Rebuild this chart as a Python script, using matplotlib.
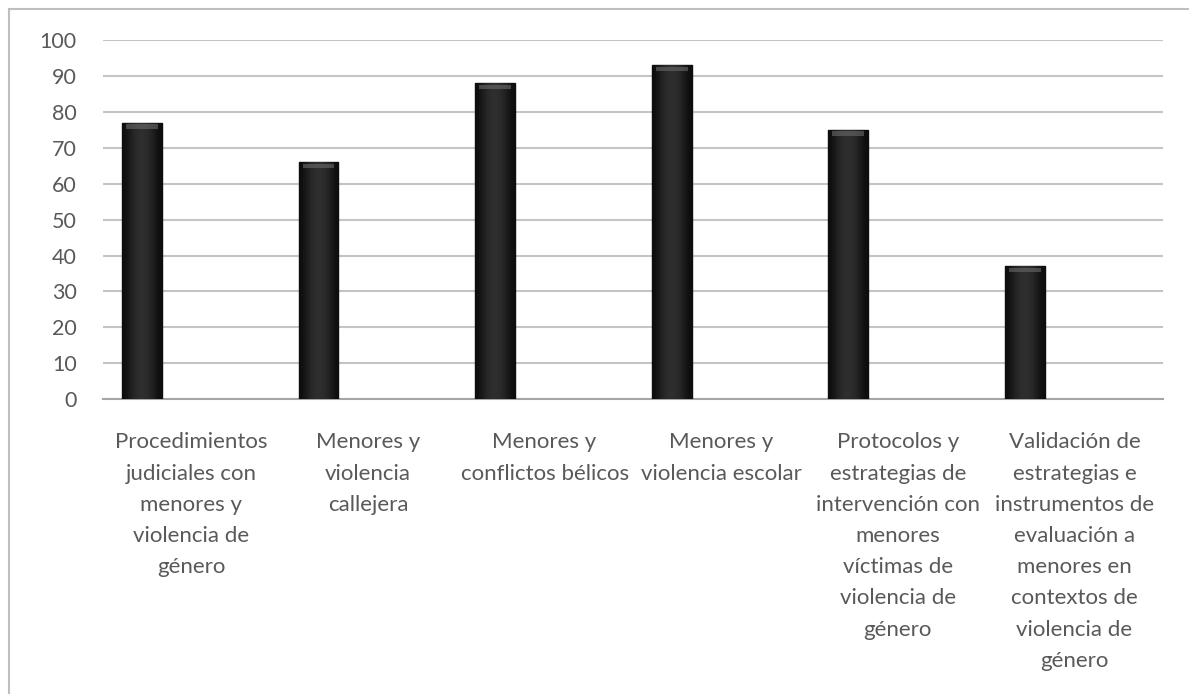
import matplotlib
matplotlib.use("Agg")
import matplotlib.pyplot as plt
import numpy as np
from matplotlib.lines import Line2D

categories = [
    "Procedimientos\njudiciales con\nmenores y\nviolencia de\ngénero",
    "Menores y\nviolencia\ncallejera",
    "Menores y\nconflictos bélicos",
    "Menores y\nviolencia escolar",
    "Protocolos y\nestrategias de\nintervención con\nmenores\nvíctimas de\nviolencia de\ngénero",
    "Validación de\nestrategias e\ninstrumentos de\nevaluación a\nmenores en\ncontextos de\nviolencia de\ngénero",
]
values = [77, 66, 88, 93, 75, 37]
yticks = list(range(0, 101, 10))

plt.rcParams["font.family"] = ["Lato", "DejaVu Sans"]
TEXT = "#595959"

fig = plt.figure(figsize=(11.89, 6.94), dpi=100)
ax = fig.add_axes([0.0866, 0.425, 0.978 - 0.0866, 0.517])

x = np.arange(len(values))
bars = ax.bar(x - 0.28, values, width=0.226, color="#1e1e1e",
              edgecolor="#0d0d0d", linewidth=1.0, zorder=3)

# horizontal shading across each bar, like the cylinder-ish fill in the original
grad = np.array([[0.05, 0.12, 0.17, 0.19, 0.17, 0.12, 0.05]])
for b in bars:
    bx, by = b.get_x(), b.get_y()
    w, h = b.get_width(), b.get_height()
    im = ax.imshow(grad, cmap="gray", vmin=0, vmax=1, aspect="auto",
                   extent=[bx, bx + w, by, by + h], zorder=3.5,
                   interpolation="bicubic")
    im.set_clip_path(b)
    # small bevel highlight at the top
    ax.bar(bx + w / 2, 1.2, width=w * 0.8, bottom=by + h - 1.6,
           color="#6a6a6a", alpha=0.6, linewidth=0, zorder=4)

ax.set_xlim(-0.5, len(values) - 0.5)
ax.set_ylim(0, 100)
ax.set_yticks(yticks)
ax.yaxis.grid(True, color="#c4c4c4", linewidth=1.5, zorder=0)
ax.set_axisbelow(True)
for side in ["left", "right", "top"]:
    ax.spines[side].set_visible(False)
ax.spines["bottom"].set_color("#a6a6a6")
ax.spines["bottom"].set_linewidth(1.5)

ax.set_xticks(x)
ax.set_xticklabels(categories, fontsize=16, color=TEXT, linespacing=1.7,
                   va="top", ha="center")
ax.tick_params(axis="x", length=0, pad=24)
ax.tick_params(axis="y", length=0, pad=19, labelsize=15.5, labelcolor=TEXT)

# outer chart border (left and top edges visible)
fig.add_artist(Line2D([9 / 1189, 9 / 1189], [0, 1 - 9 / 694],
                      transform=fig.transFigure, color="#bfbfbf", lw=1.5))
fig.add_artist(Line2D([9 / 1189, 1], [1 - 9 / 694, 1 - 9 / 694],
                      transform=fig.transFigure, color="#bfbfbf", lw=1.5))

fig.savefig("out.png", dpi=100, facecolor="white")
